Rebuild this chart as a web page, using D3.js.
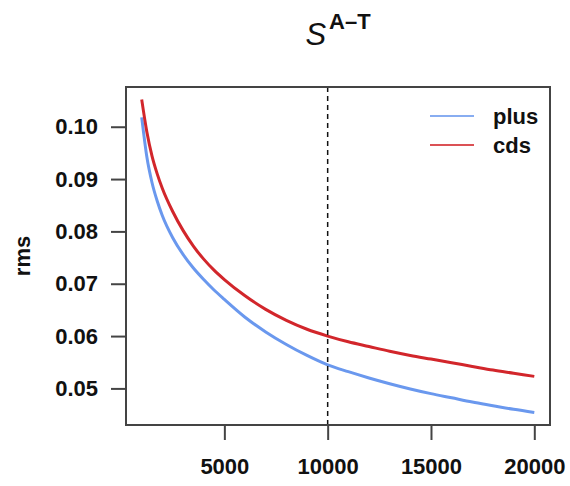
<!DOCTYPE html>
<html lang="en">
<head>
    <meta charset="UTF-8">
    <title>S A-T rms</title>
    <script src="https://d3js.org/d3.v7.min.js"></script>
    <style>
        body { margin: 0; background: #fff; }
        svg { display: block; font-family: "Liberation Sans", Arial, sans-serif; }
    </style>
</head>
<body>
    <svg></svg>

    <script>
        const width = 570;
        const height = 486;

        // values
        const sizes = [1000, 1250, 1500, 1750, 2000, 2500, 3000, 3500, 4000, 4500, 5000,
            6000, 7000, 8000, 9000, 10000, 11000, 12000, 13000, 14000, 15000,
            16000, 17000, 18000, 19000, 20000];
        const plus = [0.1018, 0.0942, 0.0893, 0.0858, 0.0830, 0.0788, 0.0756, 0.0730, 0.0708, 0.0688, 0.0670,
            0.0636, 0.0608, 0.0584, 0.0563, 0.0545, 0.0532, 0.0520, 0.0509, 0.0499, 0.0490,
            0.0482, 0.0474, 0.0467, 0.0460, 0.0454];
        const cds = [0.1052, 0.0990, 0.0944, 0.0910, 0.0882, 0.0838, 0.0802, 0.0772, 0.0747, 0.0726, 0.0708,
            0.0677, 0.0651, 0.0630, 0.0613, 0.0600, 0.0589, 0.0580, 0.0571, 0.0563, 0.0556,
            0.0549, 0.0542, 0.0535, 0.0529, 0.0523];
        const xTicks = [5000, 10000, 15000, 20000];
        const yTicks = [0.05, 0.06, 0.07, 0.08, 0.09, 0.10];
        const cutoff = 10000;
        const seriesNames = ['plus', 'cds'];
        const seriesColors = ['#6a98ee', '#d2262b'];

        const margin = {top: 87, right: 20, bottom: 61, left: 126};

        const svg = d3.select('svg')
            .attr('width', width)
            .attr('height', height)
            .attr('viewBox', [0, 0, width, height]);

        // R style 4% padding around data range
        const xPad = (20000 - 1000) * 0.04;
        const x_scale = d3.scaleLinear()
            .domain([1000 - xPad, 20000 + xPad])
            .range([margin.left, width - margin.right]);

        const yMin = d3.min(plus), yMax = d3.max(cds);
        const yPad = (yMax - yMin) * 0.04;
        const y_scale = d3.scaleLinear()
            .domain([yMin - yPad, yMax + yPad])
            .range([height - margin.bottom, margin.top]);

        // curves
        const line = d3.line()
            .x((d, i) => x_scale(sizes[i]))
            .y(d => y_scale(d))
            .curve(d3.curveMonotoneX);

        [plus, cds].forEach((vals, k) => {
            svg.append('path')
                .datum(vals)
                .attr('fill', 'none')
                .attr('stroke', seriesColors[k])
                .attr('stroke-width', 3)
                .attr('d', line);
        });

        // dashed cutoff
        svg.append('line')
            .attr('x1', x_scale(cutoff)).attr('x2', x_scale(cutoff))
            .attr('y1', margin.top).attr('y2', height - margin.bottom)
            .attr('stroke', '#111')
            .attr('stroke-width', 1.5)
            .attr('stroke-dasharray', '5,4');

        // box
        svg.append('rect')
            .attr('x', margin.left).attr('y', margin.top)
            .attr('width', width - margin.right - margin.left)
            .attr('height', height - margin.bottom - margin.top)
            .attr('fill', 'none')
            .attr('stroke', '#444')
            .attr('stroke-width', 2);

        // axes
        const x_axis = d3.axisBottom(x_scale).tickValues(xTicks).tickSize(15).tickPadding(18)
            .tickFormat(d3.format('d'));
        const y_axis = d3.axisLeft(y_scale).tickValues(yTicks).tickSize(15).tickPadding(13)
            .tickFormat(d3.format('.2f'));

        const gx = svg.append('g')
            .attr('transform', `translate(0,${height - margin.bottom})`)
            .call(x_axis);
        const gy = svg.append('g')
            .attr('transform', `translate(${margin.left},0)`)
            .call(y_axis);

        [gx, gy].forEach(g => {
            g.select('.domain').remove();
            g.selectAll('.tick line').attr('stroke', '#444').attr('stroke-width', 2);
            g.selectAll('text')
                .attr('fill', '#111')
                .style('font-size', '22px')
                .style('font-weight', 'bold')
                .style('font-family', '"Liberation Sans", Arial, sans-serif');
        });

        // y label
        svg.append('text')
            .attr('transform', `translate(30,${(margin.top + height - margin.bottom) / 2}) rotate(-90)`)
            .attr('text-anchor', 'middle')
            .style('font-size', '22px')
            .style('font-weight', 'bold')
            .attr('fill', '#111')
            .text('rms');

        // title S^{A-T}
        const title = svg.append('text')
            .attr('x', (margin.left + width - margin.right) / 2)
            .attr('y', 45)
            .attr('text-anchor', 'middle')
            .attr('fill', '#111');
        title.append('tspan')
            .style('font-size', '31px')
            .style('font-style', 'italic')
            .text('S');
        title.append('tspan')
            .attr('dy', -16)
            .attr('dx', 3)
            .style('font-size', '22px')
            .style('font-weight', 'bold')
            .text('A\u2013T');

        // legend
        const legend = svg.append('g');
        seriesNames.forEach((name, k) => {
            const yy = 116 + k * 29;
            legend.append('line')
                .attr('x1', 430).attr('x2', 474)
                .attr('y1', yy).attr('y2', yy)
                .attr('stroke', seriesColors[k])
                .attr('stroke-opacity', 0.8)
                .attr('stroke-width', 2);
            legend.append('text')
                .attr('x', 493).attr('y', yy + 8)
                .style('font-size', '22px')
                .style('font-weight', 'bold')
                .attr('fill', '#111')
                .text(name);
        });
    </script>
</body>
</html>
